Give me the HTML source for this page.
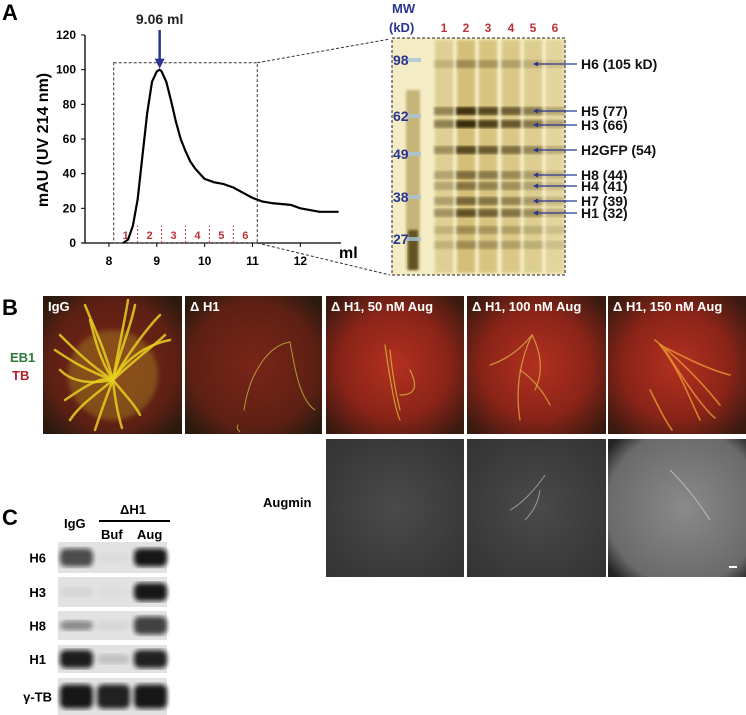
<!DOCTYPE html>
<html><head><meta charset="utf-8">
<style>
html,body{margin:0;padding:0;background:#fff;}
body{width:746px;height:715px;position:relative;overflow:hidden;font-family:"Liberation Sans",sans-serif;}
svg{position:absolute;left:0;top:0;}
text{font-family:"Liberation Sans",sans-serif;font-weight:bold;}
</style></head>
<body>
<svg id="fig" width="746" height="715" viewBox="0 0 746 715">
<defs>
  <radialGradient id="redbg" cx="50%" cy="50%" r="65%">
    <stop offset="0%" stop-color="#b3301f"/><stop offset="60%" stop-color="#8a2418"/><stop offset="100%" stop-color="#3a1a10"/>
  </radialGradient>
  <radialGradient id="redbg2" cx="50%" cy="50%" r="65%">
    <stop offset="0%" stop-color="#7a2418"/><stop offset="70%" stop-color="#5e2014"/><stop offset="100%" stop-color="#2a1a0e"/>
  </radialGradient>
  <radialGradient id="graybg" cx="50%" cy="50%" r="70%">
    <stop offset="0%" stop-color="#4a4a4a"/><stop offset="100%" stop-color="#333"/>
  </radialGradient>
  <radialGradient id="graybg3" cx="55%" cy="50%" r="70%">
    <stop offset="0%" stop-color="#8a8a8a"/><stop offset="80%" stop-color="#6a6a6a"/><stop offset="100%" stop-color="#222"/>
  </radialGradient>
  <linearGradient id="gelbg" x1="0" y1="0" x2="0" y2="1">
    <stop offset="0%" stop-color="#efe2a6"/><stop offset="100%" stop-color="#e8d79a"/>
  </linearGradient>
  <filter id="blur1"><feGaussianBlur stdDeviation="1.2"/></filter>
  <filter id="blur2"><feGaussianBlur stdDeviation="2.5"/></filter>
</defs>

<text x="2" y="20" font-size="22">A</text>
<g id="chart"></g>
<g id="gel"></g>

<text x="2" y="315" font-size="22">B</text>
<text x="10" y="362" font-size="13" fill="#2e7a3a">EB1</text>
<text x="12" y="380" font-size="13" fill="#b0202a">TB</text>
<g id="micro"></g>
<text x="263" y="507" font-size="13">Augmin</text>

<text x="2" y="525" font-size="22">C</text>
<text x="64" y="528" font-size="13">IgG</text>
<text x="120" y="514" font-size="13">ΔH1</text>
<line x1="99" y1="521" x2="170" y2="521" stroke="#000" stroke-width="2"/>
<text x="101" y="539" font-size="13">Buf</text>
<text x="137" y="539" font-size="13">Aug</text>
<g id="blot"></g>
</svg>

<script>
const NS='http://www.w3.org/2000/svg';
function mk(tag,attrs,parent){const e=document.createElementNS(NS,tag);for(const k in attrs)e.setAttribute(k,attrs[k]);if(parent)parent.appendChild(e);return e;}

const elutionMl=[8.3,8.4,8.5,8.6,8.7,8.8,8.9,9.0,9.06,9.1,9.2,9.3,9.4,9.5,9.6,9.7,9.8,9.9,10.0,10.2,10.4,10.6,10.8,11.0,11.2,11.4,11.6,11.8,12.0,12.2,12.4,12.6,12.8];
const absorbance=[0,2,10,25,50,75,93,99,100,99,93,82,70,60,53,47,43,40,37,35,34,32,29,26,24,23,22.5,22,20,19,18,18,18];
const xTicks=[8,9,10,11,12];
const yTicks=[0,20,40,60,80,100,120];
const fractionBounds=[8.1,8.6,9.1,9.6,10.1,10.6,11.1];
const fractionLabels=['1','2','3','4','5','6'];
const peakMl=9.06;

const X0=7.5,X1=12.85,px0=85,px1=341, Y0=0,Y1=120,py0=243,py1=35;
const sx=v=>px0+(v-X0)/(X1-X0)*(px1-px0);
const sy=v=>py0+(v-Y0)/(Y1-Y0)*(py1-py0);
const chart=document.getElementById('chart');

let el=mk('line',{x1:px0,y1:sy(Y1),x2:px0,y2:py0,stroke:'#000','stroke-width':1.3},chart);

el=mk('line',{x1:px0-3,y1:py0,x2:px1,y2:py0,stroke:'#000','stroke-width':1.3},chart);

yTicks.forEach(t=>{
  mk('line',{x1:px0-4,y1:sy(t),x2:px0,y2:sy(t),stroke:'#000'},chart);
  const tx=mk('text',{x:px0-9,y:sy(t)+4,'font-size':12,'text-anchor':'end'},chart);tx.textContent=t;
  
});
xTicks.forEach(t=>{
  mk('line',{x1:sx(t),y1:py0,x2:sx(t),y2:py0+4,stroke:'#000'},chart);
  const tx=mk('text',{x:sx(t),y:py0+22,'font-size':12,'text-anchor':'middle'},chart);tx.textContent=t;
  
});
el=mk('text',{x:339,y:258,'font-size':16},chart);el.textContent='ml';

el=mk('text',{x:0,y:0,'font-size':16,'text-anchor':'middle',transform:'translate(48,140) rotate(-90)'},chart);el.textContent='mAU (UV 214 nm)';


const bx0=sx(fractionBounds[0]),bx1=sx(fractionBounds[fractionBounds.length-1]),byTop=sy(104);
el=mk('rect',{x:bx0,y:byTop,width:bx1-bx0,height:py0-byTop,fill:'none',stroke:'#333','stroke-dasharray':'3,2','stroke-width':1},chart);

mk('line',{x1:bx1,y1:byTop,x2:390,y2:39,stroke:'#333','stroke-dasharray':'3,2'},chart);
mk('line',{x1:bx1,y1:py0,x2:390,y2:275,stroke:'#333','stroke-dasharray':'3,2'},chart);
for(let i=1;i<fractionBounds.length-1;i++){
  el=mk('line',{x1:sx(fractionBounds[i]),y1:py0,x2:sx(fractionBounds[i]),y2:py0-17,stroke:'#c0303a','stroke-dasharray':'2,2'},chart);
  
}
fractionLabels.forEach((l,i)=>{
  const tx=mk('text',{x:(sx(fractionBounds[i])+sx(fractionBounds[i+1]))/2,y:py0-4,'font-size':11,'text-anchor':'middle',fill:'#c0303a'},chart);tx.textContent=l;
  
});
let d='';elutionMl.forEach((v,i)=>{d+=(i?'L':'M')+sx(v).toFixed(1)+','+sy(absorbance[i]).toFixed(1);});
el=mk('path',{d:d,fill:'none',stroke:'#000','stroke-width':2.2,'stroke-linejoin':'round'},chart);

const pX=sx(peakMl);
el=mk('line',{x1:pX,y1:30,x2:pX,y2:sy(100)-10,stroke:'#2b3590','stroke-width':2.5},chart);

mk('polygon',{points:`${pX-5},${sy(100)-11} ${pX+5},${sy(100)-11} ${pX},${sy(100)-1}`,fill:'#2b3590'},chart);
el=mk('text',{x:pX,y:24,'font-size':14,'text-anchor':'middle',fill:'#222'},chart);el.textContent=peakMl.toFixed(2)+' ml';


// ---- gel ----
const gel=document.getElementById('gel');
const laneNames=['1','2','3','4','5','6'];
const laneX=[444,466,488,511,533,555];
const mwValues=['98','62','49','38','27'];
const mwY=[60,116,154,197,239];
const bandY=[64,111,124,150,175,186,201,213,230,245];
const laneIntensity=[0.45,1,0.85,0.7,0.5,0.25];
const bandStrength=[0.3,0.9,0.95,0.75,0.5,0.45,0.55,0.7,0.3,0.3];
const protLabels=['H6 (105 kD)','H5 (77)','H3 (66)','H2GFP (54)','H8 (44)','H4 (41)','H7 (39)','H1 (32)'];
const protY=[64,111,125,150,175,186,201,213];

mk('rect',{x:392,y:38,width:173,height:237,fill:'#f3ecc4'},gel);
mk('rect',{x:406,y:90,width:14,height:180,fill:'#a89048',opacity:0.6,filter:'url(#blur1)'},gel);
mk('rect',{x:408,y:230,width:10,height:40,fill:'#4a3a10',opacity:0.8,filter:'url(#blur1)'},gel);
laneX.forEach((x,li)=>{
  const c=mk('rect',{x:x-9,y:40,width:18,height:233,fill:'#c9ad58',opacity:0.45*laneIntensity[li]+0.25,filter:'url(#blur1)'},gel);
  
  bandY.forEach((y,bi)=>{
    const o=Math.min(1,laneIntensity[li]*bandStrength[bi]+0.05);
    const b=mk('rect',{x:x-10,y:y-4,width:20,height:8,fill:'#2a1e04',opacity:o*0.9,filter:'url(#blur1)'},gel);
    
  });
});
mk('rect',{x:392,y:38,width:173,height:237,fill:'none',stroke:'#222','stroke-dasharray':'3,2'},gel);
el=mk('text',{x:392,y:13,'font-size':13,fill:'#2b3590'},gel);el.textContent='MW';

el=mk('text',{x:389,y:32,'font-size':13,fill:'#2b3590'},gel);el.textContent='(kD)';

mwValues.forEach((v,i)=>{
  mk('rect',{x:407,y:mwY[i]-2,width:14,height:4,fill:'#a8c4dc',opacity:0.8},gel);
  const t=mk('text',{x:393,y:mwY[i]+5,'font-size':14,fill:'#2b3590'},gel);t.textContent=v;
  
});
laneNames.forEach((n,i)=>{
  const t=mk('text',{x:laneX[i],y:32,'font-size':12,fill:'#c0303a','text-anchor':'middle'},gel);t.textContent=n;
  
});
protLabels.forEach((l,i)=>{
  const y=protY[i];
  const a=mk('line',{x1:537,y1:y,x2:577,y2:y,stroke:'#2b3590','stroke-width':1.3},gel);
  
  mk('polygon',{points:`${533},${y} ${538},${y-2.5} ${538},${y+2.5}`,fill:'#2b3590'},gel);
  const t=mk('text',{x:581,y:y+5,'font-size':14,fill:'#111'},gel);t.textContent=l;
  
});

// ---- microscopy ----
const micro=document.getElementById('micro');
const colX=[43,185,326,467,608];
const colW=[139,137,138,139,138];
const titles=['IgG','Δ H1','Δ H1, 50 nM Aug','Δ H1, 100 nM Aug','Δ H1, 150 nM Aug'];
const fills=['url(#redbg2)','url(#redbg2)','url(#redbg)','url(#redbg)','url(#redbg)'];
const strokes=[
 ['M113,380 C100,360 95,340 90,320','M113,380 C120,350 130,330 135,305','M113,380 C130,350 150,325 160,315','M113,380 C140,355 155,345 165,335','M113,380 C85,385 70,380 60,370','M113,380 C90,365 75,350 60,335','M113,380 C95,395 80,405 70,420','M113,380 C105,400 100,415 95,430','M113,380 C115,400 118,415 122,428','M113,380 C125,395 135,405 140,415','M113,380 C125,360 145,345 170,340','M113,380 C85,370 70,360 55,350','M113,380 C100,375 80,390 65,400','M113,380 C105,350 95,330 85,305','M113,380 C120,340 125,320 128,300'],
 ['M244,410 C250,370 270,345 290,342','M290,342 C295,370 300,400 315,410','M238,425 C236,428 238,430 240,432'],
 ['M385,345 C390,380 395,410 400,420','M400,410 C395,390 392,370 390,350','M410,370 C420,390 412,395 400,395'],
 ['M532,335 C520,360 515,390 520,420','M532,335 C545,360 540,380 535,390','M532,335 C520,350 505,360 490,365','M520,370 C535,380 545,395 550,405'],
 ['M655,340 C680,360 700,380 720,405','M660,345 C680,370 690,400 700,420','M650,390 C660,410 665,420 672,430','M660,345 C690,360 710,370 730,375','M665,350 C690,390 705,410 715,418']
];
const strokeColor=['#e8d020','#b8b040','#d8b040','#d8a040','#e89030'];
const strokeWidth=[2.5,1,1.2,1.3,1.6];
titles.forEach((t,i)=>{
  const g=mk('g',{},micro);
  
  mk('rect',{x:colX[i],y:296,width:colW[i],height:138,fill:fills[i]},g);
  if(i===0){mk('ellipse',{cx:113,cy:375,rx:45,ry:45,fill:'#b8a020',opacity:0.35,filter:'url(#blur2)'},g);}
  strokes[i].forEach(d=>{
    mk('path',{d:d,fill:'none',stroke:strokeColor[i],'stroke-width':strokeWidth[i],opacity:0.85,'stroke-linecap':'round'},g);
  });
  const tx=mk('text',{x:colX[i]+5,y:311,'font-size':13,fill:'#fff'},g);tx.textContent=t;
  
});
const augX=[326,467,608];
const augFill=['url(#graybg)','url(#graybg)','url(#graybg3)'];
augX.forEach((x,i)=>{
  const r=mk('rect',{x:x,y:439,width:colW[i+2],height:138,fill:augFill[i]},micro);
  
});
mk('path',{d:'M545,475 C535,490 520,505 510,510 M540,490 C538,505 530,515 525,520',fill:'none',stroke:'#999','stroke-width':1},micro);
mk('path',{d:'M670,470 C690,490 700,505 710,520',fill:'none',stroke:'#bbb','stroke-width':1},micro);
el=mk('rect',{x:729,y:566,width:8,height:2,fill:'#fff'},micro);


// ---- western blot ----
const blot=document.getElementById('blot');
const blotRows=['H6','H3','H8','H1','γ-TB'];
const rowTop=[542,577,611,645,678];
const rowH=[31,30,29,28,37];
const blotLaneX=[76,113,150];
const bandDensity=[[0.7,0.03,0.95],[0.06,0.02,0.95],[0.4,0.05,0.75],[0.92,0.15,0.9],[0.95,0.9,0.95]];
blotRows.forEach((n,r)=>{
  const g=mk('g',{},blot);
  
  mk('rect',{x:58,y:rowTop[r],width:109,height:rowH[r],fill:'#e2e2e2'},g);
  bandDensity[r].forEach((v,li)=>{
    const h=r===4?24:(v>0.5?18:10);
    const b=mk('rect',{x:blotLaneX[li]-16,y:rowTop[r]+rowH[r]/2-h/2,width:33,height:h,rx:6,fill:'#111',opacity:v,filter:'url(#blur2)'},g);
    
  });
  const t=mk('text',{x:r===4?52:46,y:rowTop[r]+rowH[r]/2+5,'font-size':13,'text-anchor':'end'},g);
  t.textContent=n;
  
});
</script>
</body></html>
